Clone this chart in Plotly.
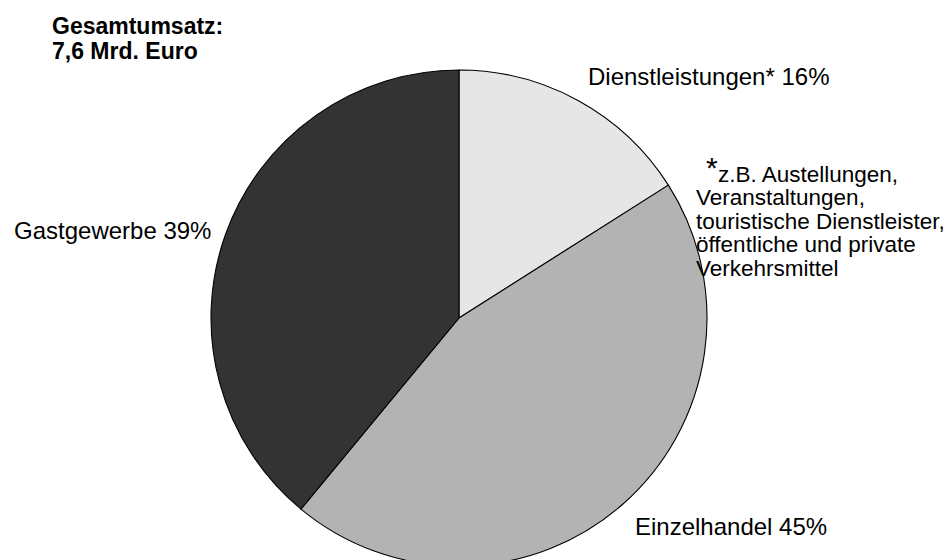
import plotly.graph_objects as go

# ---- data ----
categories = ["Dienstleistungen*", "Einzelhandel", "Gastgewerbe"]
shares = [16, 45, 39]
colors = ["#e6e6e6", "#b3b3b3", "#333333"]
title_lines = ["Gesamtumsatz:", "7,6 Mrd. Euro"]
footnote_lines = ["z.B. Austellungen,", "Veranstaltungen,", "touristische Dienstleister,",
                  "öffentliche und private", "Verkehrsmittel"]

W, H = 948, 600
FONT = "Liberation Sans, Arial, sans-serif"


def px(x):
    return x / W


def py(y):
    return 1 - y / H


fig = go.Figure(go.Pie(
    labels=categories,
    values=shares,
    marker=dict(colors=colors, line=dict(color="#000000", width=1.1)),
    sort=False,
    direction="clockwise",
    rotation=0,
    textinfo="none",
    hoverinfo="label+percent",
    showlegend=False,
    domain=dict(x=[px(211), px(707)], y=[py(566), py(70)]),
))

ann = []
# slice labels
label_pos = {"Dienstleistungen*": (586, 76.5), "Einzelhandel": (633, 526.5), "Gastgewerbe": (12, 230.5)}
for c, v in zip(categories, shares):
    x, y = label_pos[c]
    ann.append(dict(x=px(x), y=py(y), text=f"{c} {v}%", xanchor="left", yanchor="middle",
                    font=dict(size=24, color="#000"), showarrow=False))
# title
for i, t in enumerate(title_lines):
    ann.append(dict(x=px(50), y=py(26 + i * 25), text=f"<b>{t}</b>", xanchor="left", yanchor="middle",
                    font=dict(size=23, color="#000"), showarrow=False))
# footnote
ann.append(dict(x=px(704), y=py(167), text="*", xanchor="left", yanchor="middle",
                font=dict(size=30, color="#000"), showarrow=False))
for i, t in enumerate(footnote_lines):
    x = 716 if i == 0 else 694
    ann.append(dict(x=px(x), y=py(174 + i * 23.5), text=t, xanchor="left", yanchor="middle",
                    font=dict(size=22.5, color="#000"), showarrow=False))

fig.update_layout(
    width=W, height=H,
    margin=dict(l=0, r=0, t=0, b=0),
    paper_bgcolor="#ffffff",
    plot_bgcolor="#ffffff",
    font=dict(family=FONT, color="#000"),
    annotations=ann,
)

fig.write_html("out.html", config={"displayModeBar": False},
               post_script="document.body.style.margin='0';document.body.style.overflow='hidden';document.documentElement.style.overflow='hidden';")
